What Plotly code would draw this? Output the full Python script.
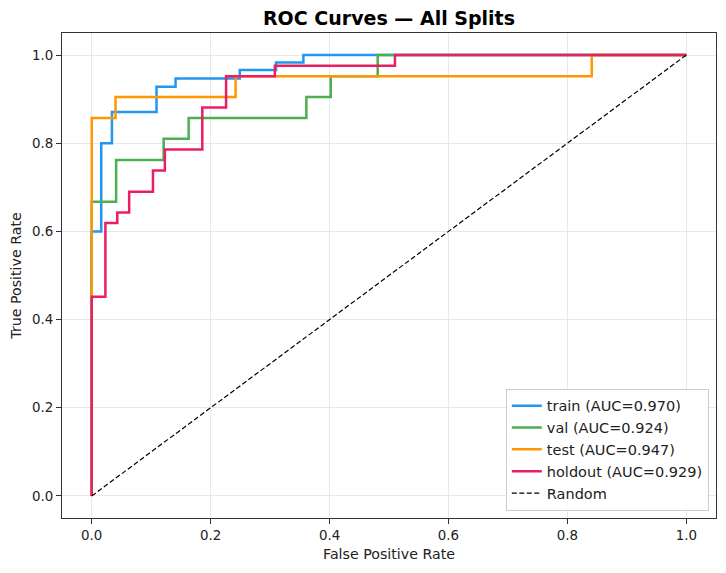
import plotly.graph_objects as go

train_fpr = [0, 0, 0.016, 0.016, 0.034, 0.034, 0.109, 0.109, 0.141, 0.141, 0.249, 0.249, 0.31, 0.31, 0.356, 0.356, 1]
train_tpr = [0, 0.6, 0.6, 0.8, 0.8, 0.871, 0.871, 0.928, 0.928, 0.947, 0.947, 0.966, 0.966, 0.983, 0.983, 1.0, 1.0]

val_fpr = [0, 0, 0.041, 0.041, 0.121, 0.121, 0.163, 0.163, 0.361, 0.361, 0.402, 0.402, 0.481, 0.481, 1]
val_tpr = [0, 0.667, 0.667, 0.762, 0.762, 0.810, 0.810, 0.857, 0.857, 0.905, 0.905, 0.952, 0.952, 1.0, 1.0]

test_fpr = [0, 0, 0.040, 0.040, 0.242, 0.242, 0.841, 0.841, 1]
test_tpr = [0, 0.857, 0.857, 0.905, 0.905, 0.952, 0.952, 1.0, 1.0]

holdout_fpr = [0, 0, 0.023, 0.023, 0.043, 0.043, 0.063, 0.063, 0.103, 0.103, 0.123, 0.123,
               0.186, 0.186, 0.226, 0.226, 0.308, 0.308, 0.510, 0.510, 1]
holdout_tpr = [0, 0.452, 0.452, 0.619, 0.619, 0.643, 0.643, 0.690, 0.690, 0.738, 0.738, 0.786,
               0.786, 0.881, 0.881, 0.952, 0.952, 0.976, 0.976, 1.0, 1.0]

series_names = ["train (AUC=0.970)", "val (AUC=0.924)", "test (AUC=0.947)", "holdout (AUC=0.929)"]
series_colors = ["#2196F3", "#4CAF50", "#FF9800", "#E91E63"]
random_x = [0, 1]
random_y = [0, 1]
tick_values = [0, 0.2, 0.4, 0.6, 0.8, 1.0]

fig = go.Figure()
for name, color, xs, ys in zip(series_names, series_colors,
                               [train_fpr, val_fpr, test_fpr, holdout_fpr],
                               [train_tpr, val_tpr, test_tpr, holdout_tpr]):
    fig.add_trace(go.Scatter(x=xs, y=ys, mode="lines", name=name,
                             line=dict(color=color, width=2.5)))
fig.add_trace(go.Scatter(x=random_x, y=random_y, mode="lines", name="Random",
                         line=dict(color="black", width=1.2, dash="5px,2.5px")))

FONT = "DejaVu Sans"
axis_common = dict(
    range=[-0.05, 1.05], tickvals=tick_values, tickformat=".1f",
    showgrid=True, gridcolor="#e8e8e8", gridwidth=1, zeroline=False,
    showline=True, linecolor="#333333", linewidth=1.2, mirror=True,
    ticks="outside", ticklen=5, tickcolor="#333333", automargin=False,
    tickfont=dict(family=FONT, size=13.4, color="#222222"),
)

fig.update_layout(
    width=726, height=573,
    margin=dict(l=54, r=18, t=25, b=63),
    paper_bgcolor="white", plot_bgcolor="white",
    title=dict(text="<b>ROC Curves — All Splits</b>", x=0.5, xref="paper", xanchor="center",
               y=0.982, yref="container", yanchor="middle",
               font=dict(family=FONT, size=19, color="black")),
    xaxis=dict(axis_common, title=dict(text="False Positive Rate", standoff=6,
                                       font=dict(family=FONT, size=14.2, color="#222222"))),
    yaxis=dict(axis_common, title=dict(text="True Positive Rate", standoff=6,
                                       font=dict(family=FONT, size=14.2, color="#222222"))),
    legend=dict(x=0.989, y=0.015, xanchor="right", yanchor="bottom",
                bgcolor="rgba(255,255,255,0.9)", bordercolor="#cccccc", borderwidth=1,
                font=dict(family=FONT, size=14.5, color="#222222"),
                tracegroupgap=0, itemwidth=30),
    showlegend=True,
)

fig.write_html("out.html")
